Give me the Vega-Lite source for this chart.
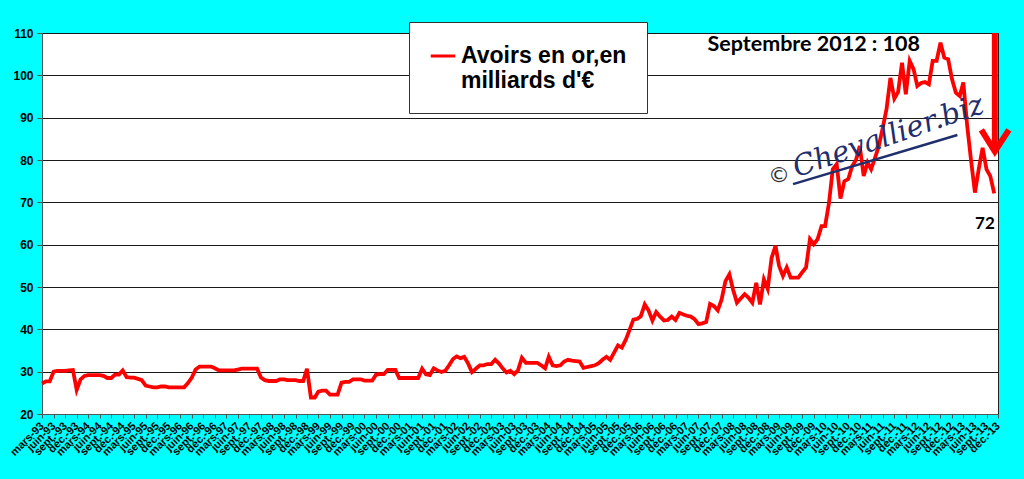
{
  "$schema": "https://vega.github.io/schema/vega-lite/v6.json",
  "width": 956,
  "height": 381,
  "autosize": {"type": "none"},
  "padding": {"left": 42, "top": 33, "right": 26, "bottom": 65},
  "background": "#00FFFF",
  "config": {
    "view": {"fill": "white", "stroke": "#222", "strokeWidth": 1},
    "axis": {"labelFont": "Liberation Sans", "labelFontWeight": "bold", "labelColor": "black", "domainColor": "#555", "tickColor": "#555"},
    "axisX": {"labelOverlap": false, "labelSeparation": 0}
  },
  "datasets": {
    "gold": [
      {"d": "1993-03-01", "v": 27.2}, {"d": "1993-04-01", "v": 27.7}, {"d": "1993-05-01", "v": 27.7}, {"d": "1993-06-01", "v": 30.0},
      {"d": "1993-07-01", "v": 30.2}, {"d": "1993-08-01", "v": 30.2}, {"d": "1993-09-01", "v": 30.2}, {"d": "1993-10-01", "v": 30.3},
      {"d": "1993-11-01", "v": 30.4}, {"d": "1993-12-01", "v": 25.7},
      {"d": "1994-01-01", "v": 28.2}, {"d": "1994-02-01", "v": 29.0}, {"d": "1994-03-01", "v": 29.2}, {"d": "1994-04-01", "v": 29.2},
      {"d": "1994-05-01", "v": 29.2}, {"d": "1994-06-01", "v": 29.2}, {"d": "1994-07-01", "v": 29.0}, {"d": "1994-08-01", "v": 28.5},
      {"d": "1994-09-01", "v": 28.5}, {"d": "1994-10-01", "v": 29.3}, {"d": "1994-11-01", "v": 29.3}, {"d": "1994-12-01", "v": 30.3},
      {"d": "1995-01-01", "v": 28.7}, {"d": "1995-02-01", "v": 28.6}, {"d": "1995-03-01", "v": 28.6}, {"d": "1995-04-01", "v": 28.3},
      {"d": "1995-05-01", "v": 28.0}, {"d": "1995-06-01", "v": 26.7}, {"d": "1995-07-01", "v": 26.5}, {"d": "1995-08-01", "v": 26.3},
      {"d": "1995-09-01", "v": 26.3}, {"d": "1995-10-01", "v": 26.5}, {"d": "1995-11-01", "v": 26.5}, {"d": "1995-12-01", "v": 26.3},
      {"d": "1996-01-01", "v": 26.3}, {"d": "1996-02-01", "v": 26.3}, {"d": "1996-03-01", "v": 26.3}, {"d": "1996-04-01", "v": 26.3},
      {"d": "1996-05-01", "v": 27.3}, {"d": "1996-06-01", "v": 28.6}, {"d": "1996-07-01", "v": 30.5}, {"d": "1996-08-01", "v": 31.2},
      {"d": "1996-09-01", "v": 31.2}, {"d": "1996-10-01", "v": 31.2}, {"d": "1996-11-01", "v": 31.2}, {"d": "1996-12-01", "v": 30.8},
      {"d": "1997-01-01", "v": 30.3}, {"d": "1997-02-01", "v": 30.3}, {"d": "1997-03-01", "v": 30.3}, {"d": "1997-04-01", "v": 30.3},
      {"d": "1997-05-01", "v": 30.3}, {"d": "1997-06-01", "v": 30.5}, {"d": "1997-07-01", "v": 30.7}, {"d": "1997-08-01", "v": 30.7},
      {"d": "1997-09-01", "v": 30.7}, {"d": "1997-10-01", "v": 30.7}, {"d": "1997-11-01", "v": 30.7}, {"d": "1997-12-01", "v": 28.6},
      {"d": "1998-01-01", "v": 28.0}, {"d": "1998-02-01", "v": 27.8}, {"d": "1998-03-01", "v": 27.8}, {"d": "1998-04-01", "v": 27.8},
      {"d": "1998-05-01", "v": 28.2}, {"d": "1998-06-01", "v": 28.2}, {"d": "1998-07-01", "v": 28.0}, {"d": "1998-08-01", "v": 28.0},
      {"d": "1998-09-01", "v": 28.0}, {"d": "1998-10-01", "v": 27.8}, {"d": "1998-11-01", "v": 27.8}, {"d": "1998-12-01", "v": 30.7},
      {"d": "1999-01-01", "v": 23.9}, {"d": "1999-02-01", "v": 23.9}, {"d": "1999-03-01", "v": 25.3}, {"d": "1999-04-01", "v": 25.5},
      {"d": "1999-05-01", "v": 25.5}, {"d": "1999-06-01", "v": 24.6}, {"d": "1999-07-01", "v": 24.6}, {"d": "1999-08-01", "v": 24.6},
      {"d": "1999-09-01", "v": 27.4}, {"d": "1999-10-01", "v": 27.6}, {"d": "1999-11-01", "v": 27.6}, {"d": "1999-12-01", "v": 28.2},
      {"d": "2000-01-01", "v": 28.2}, {"d": "2000-02-01", "v": 28.2}, {"d": "2000-03-01", "v": 27.9}, {"d": "2000-04-01", "v": 27.9},
      {"d": "2000-05-01", "v": 27.9}, {"d": "2000-06-01", "v": 29.3}, {"d": "2000-07-01", "v": 29.4}, {"d": "2000-08-01", "v": 29.4},
      {"d": "2000-09-01", "v": 30.4}, {"d": "2000-10-01", "v": 30.4}, {"d": "2000-11-01", "v": 30.4}, {"d": "2000-12-01", "v": 28.5},
      {"d": "2001-01-01", "v": 28.5}, {"d": "2001-02-01", "v": 28.5}, {"d": "2001-03-01", "v": 28.5}, {"d": "2001-04-01", "v": 28.5},
      {"d": "2001-05-01", "v": 28.5}, {"d": "2001-06-01", "v": 30.7}, {"d": "2001-07-01", "v": 29.4}, {"d": "2001-08-01", "v": 29.2},
      {"d": "2001-09-01", "v": 30.8}, {"d": "2001-10-01", "v": 30.3}, {"d": "2001-11-01", "v": 29.9}, {"d": "2001-12-01", "v": 30.2},
      {"d": "2002-01-01", "v": 31.5}, {"d": "2002-02-01", "v": 33.0}, {"d": "2002-03-01", "v": 33.6}, {"d": "2002-04-01", "v": 33.2},
      {"d": "2002-05-01", "v": 33.5}, {"d": "2002-06-01", "v": 31.9}, {"d": "2002-07-01", "v": 29.9}, {"d": "2002-08-01", "v": 30.7},
      {"d": "2002-09-01", "v": 31.5}, {"d": "2002-10-01", "v": 31.5}, {"d": "2002-11-01", "v": 31.8}, {"d": "2002-12-01", "v": 31.8},
      {"d": "2003-01-01", "v": 32.8}, {"d": "2003-02-01", "v": 31.9}, {"d": "2003-03-01", "v": 30.8}, {"d": "2003-04-01", "v": 29.8},
      {"d": "2003-05-01", "v": 30.2}, {"d": "2003-06-01", "v": 29.4}, {"d": "2003-07-01", "v": 30.3}, {"d": "2003-08-01", "v": 33.3},
      {"d": "2003-09-01", "v": 32.1}, {"d": "2003-10-01", "v": 32.1}, {"d": "2003-11-01", "v": 32.1}, {"d": "2003-12-01", "v": 32.1},
      {"d": "2004-01-01", "v": 31.5}, {"d": "2004-02-01", "v": 30.8}, {"d": "2004-03-01", "v": 33.5}, {"d": "2004-04-01", "v": 31.5},
      {"d": "2004-05-01", "v": 31.3}, {"d": "2004-06-01", "v": 31.5}, {"d": "2004-07-01", "v": 32.4}, {"d": "2004-08-01", "v": 32.8},
      {"d": "2004-09-01", "v": 32.6}, {"d": "2004-10-01", "v": 32.5}, {"d": "2004-11-01", "v": 32.4}, {"d": "2004-12-01", "v": 30.9},
      {"d": "2005-01-01", "v": 31.1}, {"d": "2005-02-01", "v": 31.3}, {"d": "2005-03-01", "v": 31.5}, {"d": "2005-04-01", "v": 32.0},
      {"d": "2005-05-01", "v": 32.8}, {"d": "2005-06-01", "v": 33.5}, {"d": "2005-07-01", "v": 32.8}, {"d": "2005-08-01", "v": 34.5},
      {"d": "2005-09-01", "v": 36.2}, {"d": "2005-10-01", "v": 35.7}, {"d": "2005-11-01", "v": 37.5}, {"d": "2005-12-01", "v": 39.8},
      {"d": "2006-01-01", "v": 42.3}, {"d": "2006-02-01", "v": 42.5}, {"d": "2006-03-01", "v": 43.1}, {"d": "2006-04-01", "v": 45.9},
      {"d": "2006-05-01", "v": 44.5}, {"d": "2006-06-01", "v": 42.1}, {"d": "2006-07-01", "v": 44.1}, {"d": "2006-08-01", "v": 43.0},
      {"d": "2006-09-01", "v": 42.1}, {"d": "2006-10-01", "v": 42.2}, {"d": "2006-11-01", "v": 43.0}, {"d": "2006-12-01", "v": 42.2},
      {"d": "2007-01-01", "v": 43.9}, {"d": "2007-02-01", "v": 43.5}, {"d": "2007-03-01", "v": 43.2}, {"d": "2007-04-01", "v": 43.0},
      {"d": "2007-05-01", "v": 42.4}, {"d": "2007-06-01", "v": 41.2}, {"d": "2007-07-01", "v": 41.4}, {"d": "2007-08-01", "v": 41.7},
      {"d": "2007-09-01", "v": 46.0}, {"d": "2007-10-01", "v": 45.5}, {"d": "2007-11-01", "v": 44.5}, {"d": "2007-12-01", "v": 47.0},
      {"d": "2008-01-01", "v": 51.4}, {"d": "2008-02-01", "v": 53.0}, {"d": "2008-03-01", "v": 49.4}, {"d": "2008-04-01", "v": 46.3},
      {"d": "2008-05-01", "v": 47.3}, {"d": "2008-06-01", "v": 48.3}, {"d": "2008-07-01", "v": 47.5}, {"d": "2008-08-01", "v": 46.3},
      {"d": "2008-09-01", "v": 51.0}, {"d": "2008-10-01", "v": 45.9}, {"d": "2008-11-01", "v": 51.8}, {"d": "2008-12-01", "v": 49.6},
      {"d": "2009-01-01", "v": 56.9}, {"d": "2009-02-01", "v": 59.7}, {"d": "2009-03-01", "v": 55.0}, {"d": "2009-04-01", "v": 52.6},
      {"d": "2009-05-01", "v": 54.6}, {"d": "2009-06-01", "v": 52.2}, {"d": "2009-07-01", "v": 52.2}, {"d": "2009-08-01", "v": 52.2},
      {"d": "2009-09-01", "v": 53.5}, {"d": "2009-10-01", "v": 54.6}, {"d": "2009-11-01", "v": 61.3}, {"d": "2009-12-01", "v": 60.1},
      {"d": "2010-01-01", "v": 61.3}, {"d": "2010-02-01", "v": 64.4}, {"d": "2010-03-01", "v": 64.4}, {"d": "2010-04-01", "v": 69.9},
      {"d": "2010-05-01", "v": 77.8}, {"d": "2010-06-01", "v": 79.0}, {"d": "2010-07-01", "v": 70.9}, {"d": "2010-08-01", "v": 75.0},
      {"d": "2010-09-01", "v": 75.5}, {"d": "2010-10-01", "v": 78.5}, {"d": "2010-11-01", "v": 80.0}, {"d": "2010-12-01", "v": 83.3},
      {"d": "2011-01-01", "v": 76.2}, {"d": "2011-02-01", "v": 79.4}, {"d": "2011-03-01", "v": 77.8}, {"d": "2011-04-01", "v": 80.5},
      {"d": "2011-05-01", "v": 83.3}, {"d": "2011-06-01", "v": 87.6}, {"d": "2011-07-01", "v": 92.0}, {"d": "2011-08-01", "v": 99.4},
      {"d": "2011-09-01", "v": 94.5}, {"d": "2011-10-01", "v": 96.1}, {"d": "2011-11-01", "v": 103.0}, {"d": "2011-12-01", "v": 95.5},
      {"d": "2012-01-01", "v": 103.4}, {"d": "2012-02-01", "v": 101.4}, {"d": "2012-03-01", "v": 97.5}, {"d": "2012-04-01", "v": 98.2},
      {"d": "2012-05-01", "v": 98.4}, {"d": "2012-06-01", "v": 97.9}, {"d": "2012-07-01", "v": 103.4}, {"d": "2012-08-01", "v": 103.4},
      {"d": "2012-09-01", "v": 107.7}, {"d": "2012-10-01", "v": 104.2}, {"d": "2012-11-01", "v": 103.8}, {"d": "2012-12-01", "v": 99.1},
      {"d": "2013-01-01", "v": 95.9}, {"d": "2013-02-01", "v": 95.1}, {"d": "2013-03-01", "v": 98.3}, {"d": "2013-04-01", "v": 88.0},
      {"d": "2013-05-01", "v": 80.0}, {"d": "2013-06-01", "v": 72.3}, {"d": "2013-07-01", "v": 77.8}, {"d": "2013-08-01", "v": 82.9},
      {"d": "2013-09-01", "v": 77.8}, {"d": "2013-10-01", "v": 76.2}, {"d": "2013-11-01", "v": 72.1}
    ],
    "arrowhead": [
      {"d": "2013-07-22", "v": 87.1},
      {"d": "2013-11-06", "v": 82.0},
      {"d": "2014-02-25", "v": 87.1}
    ],
    "one": [{}]
  },
  "layer": [
    {
      "data": {"name": "gold"},
      "mark": {"type": "line", "strokeWidth": 3.8, "interpolate": "linear"},
      "encoding": {
        "x": {
          "field": "d",
          "type": "temporal",
          "title": null,
          "scale": {
            "type": "utc",
            "domain": [{"year": 1993, "month": 3, "date": 1, "utc": true}, {"year": 2013, "month": 12, "date": 1, "utc": true}]
          },
          "axis": {
            "grid": false,
            "tickCount": 200,
            "labelAngle": -45,
            "labelAlign": "right",
            "labelBaseline": "middle",
            "labelFontSize": 11,
            "labelPadding": 6,
            "labelOverlap": false,
            "labelSeparation": 0,
            "labelBound": false,
            "labelFlush": false,
            "tickSize": 4,
            "labelExpr": "['janv.','févr.','mars','avr.','mai','juin','juil.','août','sept.','oct.','nov.','déc.'][utcmonth(datum.value)] + '-' + utcFormat(datum.value, '%y')",
            "values": [
              {"year": 1993, "month": 3, "date": 1, "utc": true}, {"year": 1993, "month": 6, "date": 1, "utc": true}, {"year": 1993, "month": 9, "date": 1, "utc": true}, {"year": 1993, "month": 12, "date": 1, "utc": true},
              {"year": 1994, "month": 3, "date": 1, "utc": true}, {"year": 1994, "month": 6, "date": 1, "utc": true}, {"year": 1994, "month": 9, "date": 1, "utc": true}, {"year": 1994, "month": 12, "date": 1, "utc": true},
              {"year": 1995, "month": 3, "date": 1, "utc": true}, {"year": 1995, "month": 6, "date": 1, "utc": true}, {"year": 1995, "month": 9, "date": 1, "utc": true}, {"year": 1995, "month": 12, "date": 1, "utc": true},
              {"year": 1996, "month": 3, "date": 1, "utc": true}, {"year": 1996, "month": 6, "date": 1, "utc": true}, {"year": 1996, "month": 9, "date": 1, "utc": true}, {"year": 1996, "month": 12, "date": 1, "utc": true},
              {"year": 1997, "month": 3, "date": 1, "utc": true}, {"year": 1997, "month": 6, "date": 1, "utc": true}, {"year": 1997, "month": 9, "date": 1, "utc": true}, {"year": 1997, "month": 12, "date": 1, "utc": true},
              {"year": 1998, "month": 3, "date": 1, "utc": true}, {"year": 1998, "month": 6, "date": 1, "utc": true}, {"year": 1998, "month": 9, "date": 1, "utc": true}, {"year": 1998, "month": 12, "date": 1, "utc": true},
              {"year": 1999, "month": 3, "date": 1, "utc": true}, {"year": 1999, "month": 6, "date": 1, "utc": true}, {"year": 1999, "month": 9, "date": 1, "utc": true}, {"year": 1999, "month": 12, "date": 1, "utc": true},
              {"year": 2000, "month": 3, "date": 1, "utc": true}, {"year": 2000, "month": 6, "date": 1, "utc": true}, {"year": 2000, "month": 9, "date": 1, "utc": true}, {"year": 2000, "month": 12, "date": 1, "utc": true},
              {"year": 2001, "month": 3, "date": 1, "utc": true}, {"year": 2001, "month": 6, "date": 1, "utc": true}, {"year": 2001, "month": 9, "date": 1, "utc": true}, {"year": 2001, "month": 12, "date": 1, "utc": true},
              {"year": 2002, "month": 3, "date": 1, "utc": true}, {"year": 2002, "month": 6, "date": 1, "utc": true}, {"year": 2002, "month": 9, "date": 1, "utc": true}, {"year": 2002, "month": 12, "date": 1, "utc": true},
              {"year": 2003, "month": 3, "date": 1, "utc": true}, {"year": 2003, "month": 6, "date": 1, "utc": true}, {"year": 2003, "month": 9, "date": 1, "utc": true}, {"year": 2003, "month": 12, "date": 1, "utc": true},
              {"year": 2004, "month": 3, "date": 1, "utc": true}, {"year": 2004, "month": 6, "date": 1, "utc": true}, {"year": 2004, "month": 9, "date": 1, "utc": true}, {"year": 2004, "month": 12, "date": 1, "utc": true},
              {"year": 2005, "month": 3, "date": 1, "utc": true}, {"year": 2005, "month": 6, "date": 1, "utc": true}, {"year": 2005, "month": 9, "date": 1, "utc": true}, {"year": 2005, "month": 12, "date": 1, "utc": true},
              {"year": 2006, "month": 3, "date": 1, "utc": true}, {"year": 2006, "month": 6, "date": 1, "utc": true}, {"year": 2006, "month": 9, "date": 1, "utc": true}, {"year": 2006, "month": 12, "date": 1, "utc": true},
              {"year": 2007, "month": 3, "date": 1, "utc": true}, {"year": 2007, "month": 6, "date": 1, "utc": true}, {"year": 2007, "month": 9, "date": 1, "utc": true}, {"year": 2007, "month": 12, "date": 1, "utc": true},
              {"year": 2008, "month": 3, "date": 1, "utc": true}, {"year": 2008, "month": 6, "date": 1, "utc": true}, {"year": 2008, "month": 9, "date": 1, "utc": true}, {"year": 2008, "month": 12, "date": 1, "utc": true},
              {"year": 2009, "month": 3, "date": 1, "utc": true}, {"year": 2009, "month": 6, "date": 1, "utc": true}, {"year": 2009, "month": 9, "date": 1, "utc": true}, {"year": 2009, "month": 12, "date": 1, "utc": true},
              {"year": 2010, "month": 3, "date": 1, "utc": true}, {"year": 2010, "month": 6, "date": 1, "utc": true}, {"year": 2010, "month": 9, "date": 1, "utc": true}, {"year": 2010, "month": 12, "date": 1, "utc": true},
              {"year": 2011, "month": 3, "date": 1, "utc": true}, {"year": 2011, "month": 6, "date": 1, "utc": true}, {"year": 2011, "month": 9, "date": 1, "utc": true}, {"year": 2011, "month": 12, "date": 1, "utc": true},
              {"year": 2012, "month": 3, "date": 1, "utc": true}, {"year": 2012, "month": 6, "date": 1, "utc": true}, {"year": 2012, "month": 9, "date": 1, "utc": true}, {"year": 2012, "month": 12, "date": 1, "utc": true},
              {"year": 2013, "month": 3, "date": 1, "utc": true}, {"year": 2013, "month": 6, "date": 1, "utc": true}, {"year": 2013, "month": 9, "date": 1, "utc": true}, {"year": 2013, "month": 12, "date": 1, "utc": true}
            ]
          }
        },
        "y": {
          "field": "v",
          "type": "quantitative",
          "title": null,
          "scale": {"domain": [20, 110], "nice": false, "zero": false},
          "axis": {
            "values": [20, 30, 40, 50, 60, 70, 80, 90, 100, 110],
            "tickCount": 20,
            "grid": true,
            "gridColor": "#1a1a1a",
            "gridWidth": 1,
            "labelFontSize": 12,
            "labelPadding": 4,
            "tickSize": 5
          }
        },
        "color": {
          "datum": "Avoirs en or,en milliards d'€",
          "type": "nominal",
          "scale": {"range": ["#FF0000"]},
          "legend": {
            "orient": "none",
            "legendX": 367,
            "legendY": -11,
            "title": null,
            "fillColor": "white",
            "strokeColor": "#333",
            "padding": 20,
            "symbolType": "stroke",
            "symbolSize": 600,
            "symbolStrokeWidth": 3,
            "labelFont": "Liberation Sans",
            "labelFontSize": 23,
            "labelFontWeight": "bold",
            "labelColor": "black",
            "labelLimit": 400,
            "labelLineHeight": 27,
            "labelExpr": "[\"Avoirs en or,en\", \"milliards d'€\"]"
          }
        }
      }
    },
    {
      "data": {"name": "one"},
      "mark": {"type": "text", "text": "Septembre 2012 : 108", "font": "Lato", "fontSize": 21.5, "fontWeight": "bold", "color": "black"},
      "encoding": {
        "x": {"datum": {"year": 2009, "month": 12, "date": 1, "utc": true}, "type": "temporal"},
        "y": {"datum": 107.2, "type": "quantitative"}
      }
    },
    {
      "data": {"name": "one"},
      "mark": {"type": "text", "text": "72", "font": "Lato", "fontSize": 17, "fontWeight": "bold", "color": "black"},
      "encoding": {
        "x": {"datum": {"year": 2013, "month": 8, "date": 19, "utc": true}, "type": "temporal"},
        "y": {"datum": 65.0, "type": "quantitative"}
      }
    },
    {
      "data": {"name": "one"},
      "mark": {"type": "text", "text": "Chevallier.biz", "font": "DejaVu Serif", "fontStyle": "italic", "fontSize": 29, "angle": -19, "color": "#1f2f6e"},
      "encoding": {
        "x": {"datum": {"year": 2011, "month": 7, "date": 15, "utc": true}, "type": "temporal"},
        "y": {"datum": 85.6, "type": "quantitative"}
      }
    },
    {
      "data": {"name": "one"},
      "mark": {"type": "text", "text": "©", "font": "DejaVu Sans", "fontSize": 22, "color": "#333"},
      "encoding": {
        "x": {"datum": {"year": 2009, "month": 3, "date": 1, "utc": true}, "type": "temporal"},
        "y": {"datum": 76.5, "type": "quantitative"}
      }
    },
    {
      "data": {"name": "one"},
      "mark": {"type": "rule", "color": "#1f2f6e", "strokeWidth": 2.5},
      "encoding": {
        "x": {"datum": {"year": 2009, "month": 6, "date": 20, "utc": true}, "type": "temporal"},
        "x2": {"datum": {"year": 2013, "month": 1, "date": 13, "utc": true}},
        "y": {"datum": 74.3, "type": "quantitative"},
        "y2": {"datum": 85.9}
      }
    },
    {
      "data": {"name": "one"},
      "mark": {"type": "rule", "color": "#FF0000", "strokeWidth": 6},
      "encoding": {
        "x": {"datum": {"year": 2013, "month": 11, "date": 6, "utc": true}, "type": "temporal"},
        "y": {"datum": 110, "type": "quantitative"},
        "y2": {"datum": 82.3}
      }
    },
    {
      "data": {"name": "arrowhead"},
      "mark": {"type": "line", "color": "#FF0000", "strokeWidth": 6, "clip": false},
      "encoding": {
        "x": {"field": "d", "type": "temporal"},
        "y": {"field": "v", "type": "quantitative"}
      }
    }
  ]
}
